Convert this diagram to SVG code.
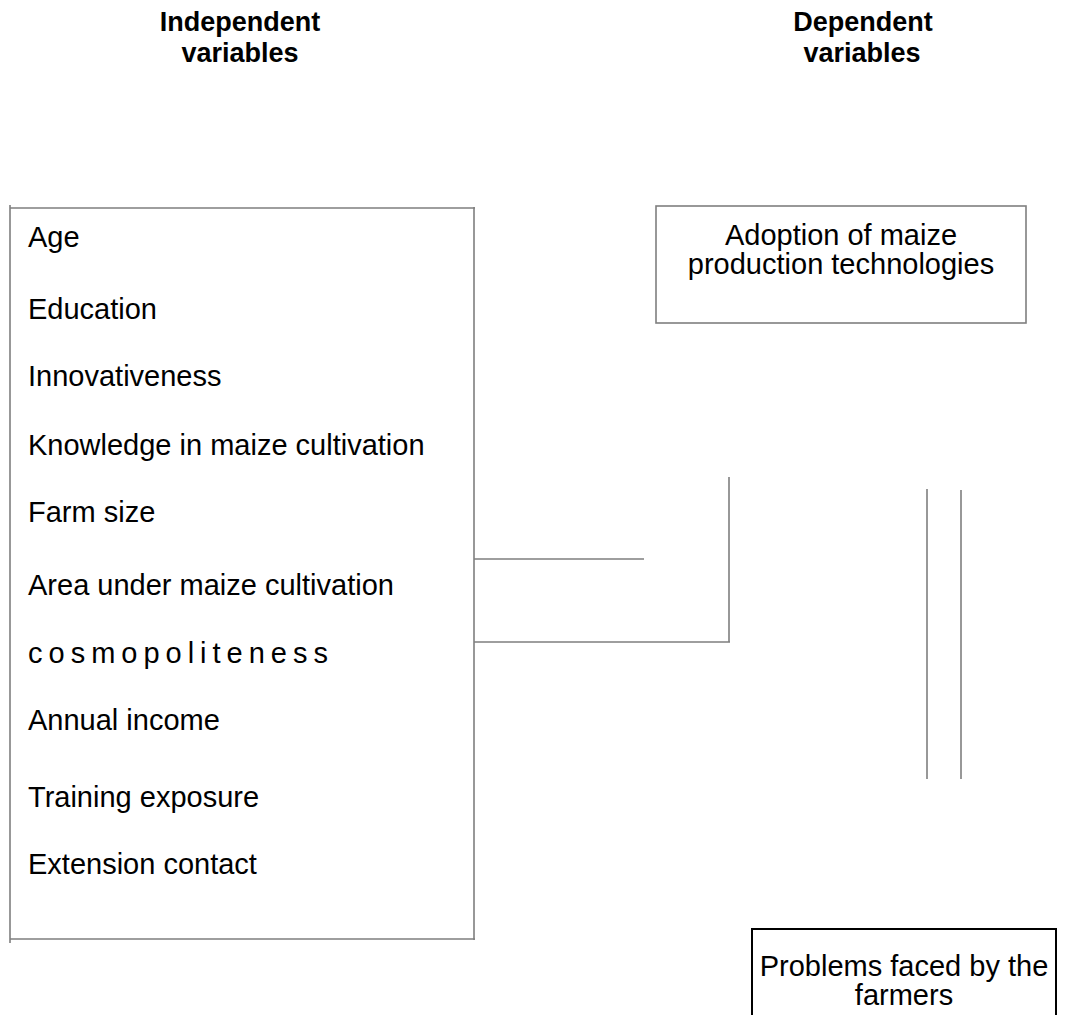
<svg xmlns="http://www.w3.org/2000/svg" width="1087" height="1015" viewBox="0 0 1087 1015">
<style>
.lbl{font-family:"Liberation Sans",Arial,sans-serif;font-size:29px;fill:#000}
.hdr{font-family:"Liberation Sans Narrow","Liberation Sans",Arial,sans-serif;font-size:27px;font-weight:bold;fill:#000;text-anchor:middle}
.ctr{text-anchor:middle}
.gl{stroke:#7f7f7f;stroke-width:1.6;fill:none}
.bk{stroke:#000;stroke-width:2;fill:#fff}
</style>
<rect width="1087" height="1015" fill="#fff"/>
<g id="headers">
<text class="hdr" x="240" y="31">Independent</text>
<text class="hdr" x="240" y="62">variables</text>
<text class="hdr" x="863" y="31">Dependent</text>
<text class="hdr" x="862" y="62">variables</text>
</g>
<g id="independent">
<path class="gl" d="M10,205 V943 M10,208 H475 M474,207 V940 M10,939 H475"/>
<text class="lbl" x="28" y="247">Age</text>
<text class="lbl" x="28" y="319">Education</text>
<text class="lbl" x="28" y="386">Innovativeness</text>
<text class="lbl" x="28" y="455">Knowledge in maize cultivation</text>
<text class="lbl" x="28" y="522">Farm size</text>
<text class="lbl" x="28" y="595">Area under maize cultivation</text>
<text class="lbl" x="28" y="663" letter-spacing="6">cosmopoliteness</text>
<text class="lbl" x="28" y="730">Annual income</text>
<text class="lbl" x="28" y="807">Training exposure</text>
<text class="lbl" x="28" y="874">Extension contact</text>
</g>
<g id="adoption">
<rect x="656" y="206" width="370" height="117" fill="#fff" stroke="#7f7f7f" stroke-width="1.6"/>
<text class="lbl ctr" x="841" y="245">Adoption of maize</text>
<text class="lbl ctr" x="841" y="274">production technologies</text>
</g>
<g id="problems">
<rect x="752" y="929" width="304" height="100" class="bk"/>
<text class="lbl ctr" x="904" y="976">Problems faced by the</text>
<text class="lbl ctr" x="904" y="1005">farmers</text>
</g>
<g id="connectors">
<path class="gl" d="M474,559 H644 M474,642 H730 M729,477 V642 M927,489 V779 M961,490 V779"/>
</g>
</svg>
